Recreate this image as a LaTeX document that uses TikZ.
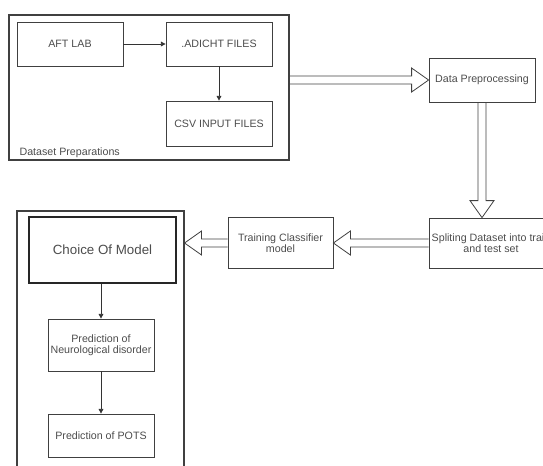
\documentclass[tikz,border=0pt]{standalone}
\usepackage{fontspec}
\setmainfont{Liberation Sans}
\usepackage{tikz}
\usetikzlibrary{positioning, arrows.meta, calc}

\tikzset{
    box/.style={draw=black!75, line width=0.6pt, text=black!70, font=\fontsize{8}{8.5}\selectfont, align=center, inner sep=1pt},
    group/.style={draw=black!75, line width=0.8pt, inner sep=0pt},
    flow/.style={draw=black!80, line width=0.6pt, -{Triangle[length=3.5pt, width=3.5pt]}},
    hollow/.style={draw=black!75, line width=0.6pt, to path={
        ($(\tikztostart)!3pt!90:(\tikztotarget)$)
        -- ($($(\tikztotarget)!12.75pt!(\tikztostart)$)!3pt!90:(\tikztotarget)$)
        -- ($($(\tikztotarget)!12.75pt!(\tikztostart)$)!9pt!90:(\tikztotarget)$)
        -- (\tikztotarget)
        -- ($($(\tikztotarget)!12.75pt!(\tikztostart)$)!9pt!-90:(\tikztotarget)$)
        -- ($($(\tikztotarget)!12.75pt!(\tikztostart)$)!3pt!-90:(\tikztotarget)$)
        -- ($(\tikztostart)!3pt!-90:(\tikztotarget)$)
    }}
}

\begin{document}
\begin{tikzpicture}[x=0.75pt, y=-0.75pt]
    \useasboundingbox (0,0) rectangle (543,465);

    % dataset preparation group
    \node (PrepGroup) [group, minimum width=210pt, minimum height=108.75pt] at (149,87.5) {};
    \node (AftLab) [box, minimum width=79.5pt, minimum height=33pt] at (70,44) {AFT LAB};
    \node (Adicht) [box, minimum width=79.5pt, minimum height=33pt] at (219,44) {.ADICHT FILES};
    \node (CsvFiles) [box, minimum width=79.5pt, minimum height=33.75pt] at (219,123.5) {CSV INPUT FILES};
    \node (PrepLabel) [anchor=west, text=black!70, font=\fontsize{8}{8.5}\selectfont, inner sep=1pt] at (18,153) {Dataset Preparations};
    \draw[flow] (AftLab.east) -- (Adicht.west);
    \draw[flow] (Adicht.south) -- (CsvFiles.north);

    % pipeline
    \node (DataPrep) [box, minimum width=79.5pt, minimum height=33pt] at (482,80) {Data Preprocessing};
    \node (Split) [box, minimum width=93pt, minimum height=37.5pt] at (491,243) {Spliting Dataset into train\\and test set};
    \node (Training) [box, minimum width=78.75pt, minimum height=38.25pt] at (280.5,243) {Training Classifier\\model};

    % model group
    \node (ModelGroup) [group, minimum width=125.25pt, minimum height=208.5pt] at (100.5,350) {};
    \node (Choice) [box, line width=1pt, draw=black!85, font=\fontsize{10}{12}\selectfont, minimum width=110.25pt, minimum height=49.5pt] at (102.5,250) {Choice Of Model};
    \node (Neuro) [box, minimum width=79.5pt, minimum height=39pt] at (101,345) {Prediction of\\Neurological disorder};
    \node (Pots) [box, minimum width=79.5pt, minimum height=32.25pt] at (101,435.5) {Prediction of POTS};

    \coordinate (PrepOut) at (PrepGroup.east |- DataPrep.west);
    \coordinate (SplitIn) at (DataPrep.south |- Split.north);
    \coordinate (ModelIn) at (ModelGroup.east |- Training.west);
    \coordinate (ChoiceOut) at (Neuro.north |- Choice.south);

    \draw[hollow] (PrepOut) to (DataPrep.west);
    \draw[hollow] (DataPrep.south) to (SplitIn);
    \draw[hollow] (Split.west) to (Training.east);
    \draw[hollow] (Training.west) to (ModelIn);

    \draw[flow] (ChoiceOut) -- (Neuro.north);
    \draw[flow] (Neuro.south) -- (Pots.north);
\end{tikzpicture}
\end{document}
